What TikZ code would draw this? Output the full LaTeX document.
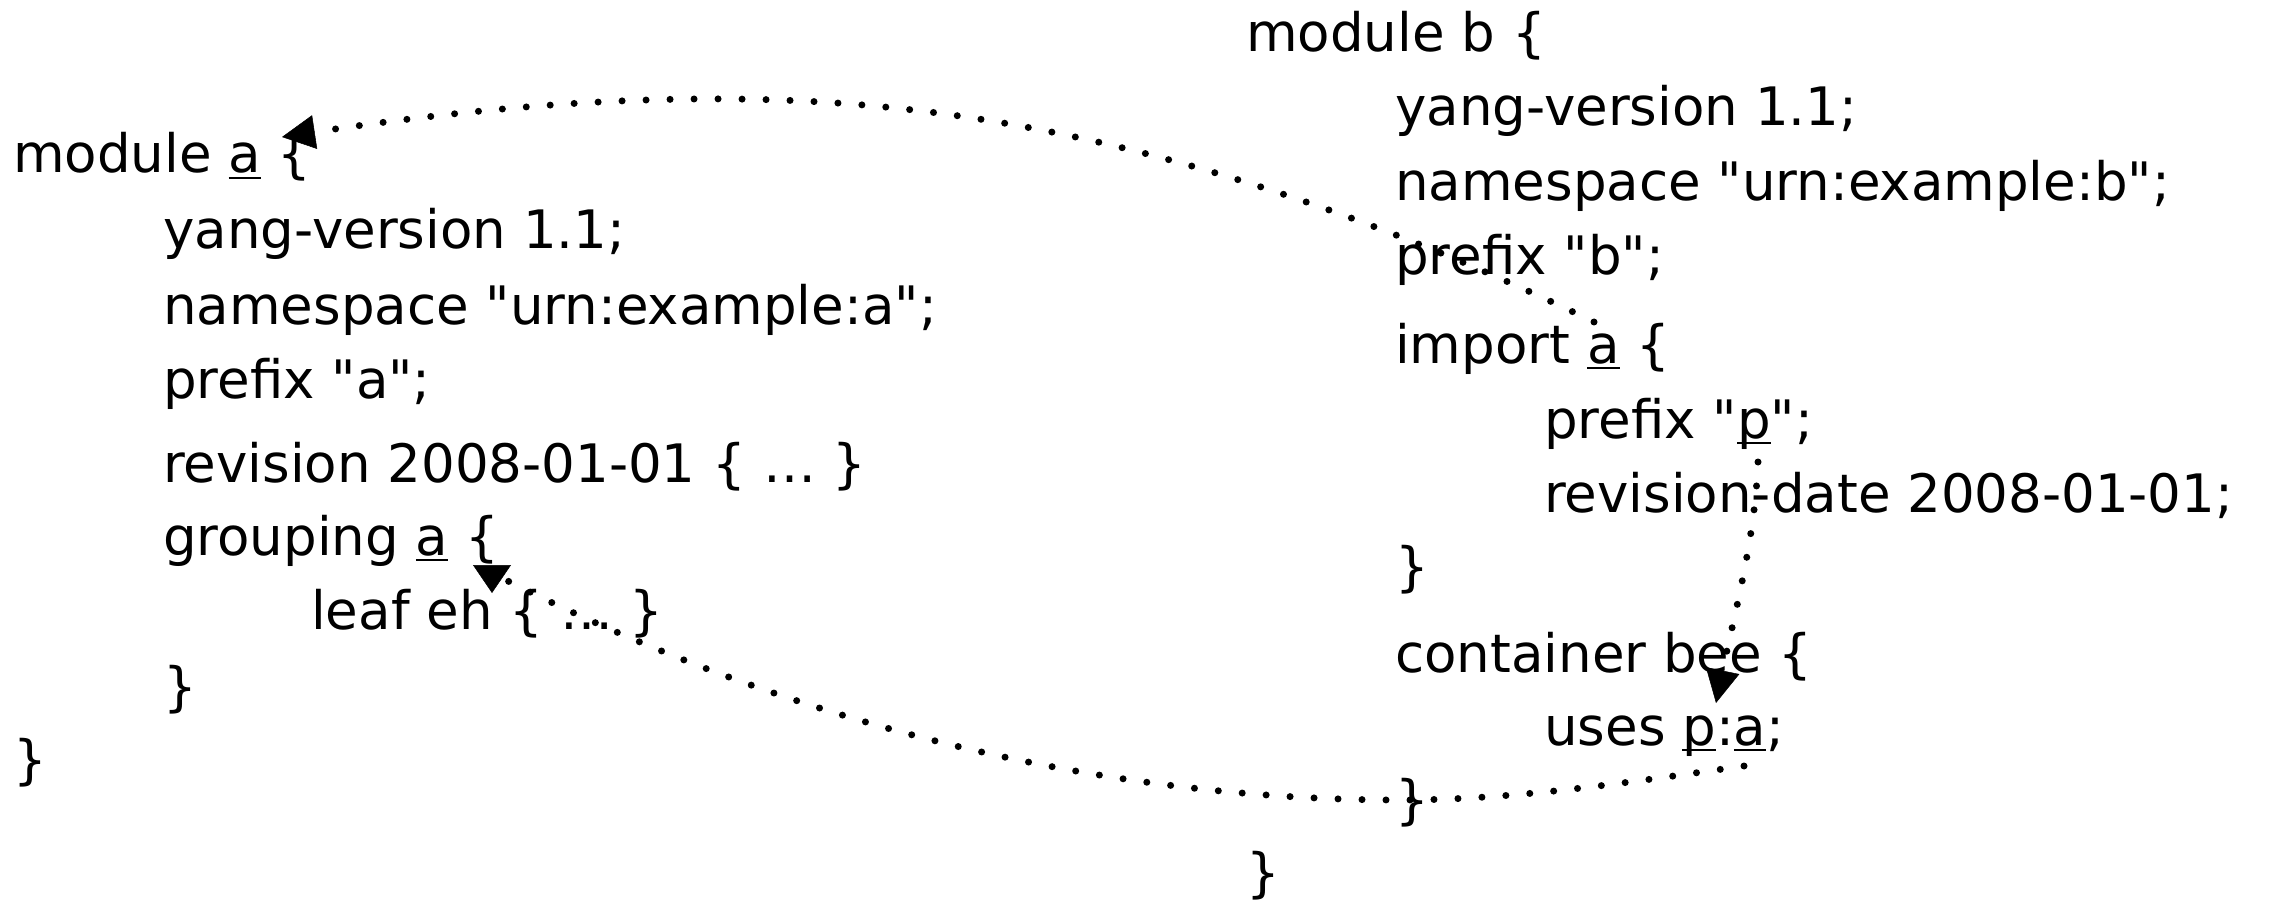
\documentclass[tikz,border=0pt]{standalone}
\usepackage{fontspec}
\setmainfont{DejaVu Sans}[Ligatures=TeXOff]
\usetikzlibrary{arrows.meta}
\newsavebox\ulbox
\newcommand\ulw[1]{\sbox\ulbox{#1}\rlap{\rule[-0.12em]{\wd\ulbox}{0.05em}}\usebox\ulbox}
\tikzset{
  code/.style={anchor=base west, inner sep=0pt, font=\fontsize{53}{60}\selectfont},
  dotlink/.style={line width=7pt, line cap=round, dash pattern=on 0pt off 24pt},
  tipA/.style={-{Triangle[length=33pt,width=34pt,line width=0.5pt]}},
  tipB/.style={-{Triangle[length=28pt,width=38pt,line width=0.5pt]}}
}
\begin{document}
\begin{tikzpicture}[x=1pt,y=-1pt]
\useasboundingbox (0,0) rectangle (2287,901);
% module a
\node[code] (la1) at (13,173) {module \ulw{a} \{};
\node[code] (la2) at (163,249) {yang-version 1.1;};
\node[code] (la3) at (163,325) {namespace "urn:example:a";};
\node[code] (la4) at (163,399) {prefix "a";};
\node[code] (la5) at (163,482) {revision 2008-01-01 \{ … \}};
\node[code] (la6) at (163,555) {grouping \ulw{a} \{};
\node[code] (la7) at (311,629) {leaf eh \{ … \}};
\node[code] (la8) at (163,705) {\}};
\node[code] (la9) at (13,778) {\}};
% module b
\node[code] (rb1) at (1246,52) {module b \{};
\node[code] (rb2) at (1395,126) {yang-version 1.1;};
\node[code] (rb3) at (1395,201) {namespace "urn:example:b";};
\node[code] (rb4) at (1395,275) {prefix "b";};
\node[code] (rb5) at (1395,363) {import \ulw{a} \{};
\node[code] (rb6) at (1544,438) {prefix "\ulw{p}";};
\node[code] (rb7) at (1544,512) {revision-date 2008-01-01;};
\node[code] (rb8) at (1395,585) {\}};
\node[code] (rb9) at (1395,672) {container bee \{};
\node[code] (rb10) at (1544,745) {uses \ulw{p}:\ulw{a};};
\node[code] (rb11) at (1395,818) {\}};
\node[code] (rb12) at (1246,891) {\}};
% connector end points
\coordinate (impA) at (1594,322);
\coordinate (arcTop) at (904,109);
\coordinate (modA) at (282,137);
\coordinate (usesPA) at (1744,766);
\coordinate (arcLow) at (1400,800);
\coordinate (hookA) at (500,577);
\coordinate (hookB) at (492,585);
\coordinate (grpA) at (492,593);
\coordinate (prefP) at (1758,462);
\coordinate (usesP) at (1716,703);
% import a -> module a
\draw[dotlink,tipA] (impA) .. controls (1378,217) and (1143,135) .. (arcTop)
  .. controls (698,86) and (487,106) .. (modA);
% uses p:a -> grouping a
\draw[dotlink,tipB] (usesPA) .. controls (1631,782) and (1515,800) .. (arcLow)
  .. controls (1090,800) and (776,718) .. (hookA) -- (hookB) -- (grpA);
% prefix p -> uses p
\draw[dotlink,tipA] (prefP) .. controls (1755,540) and (1733,620) .. (usesP);
\end{tikzpicture}
\end{document}
